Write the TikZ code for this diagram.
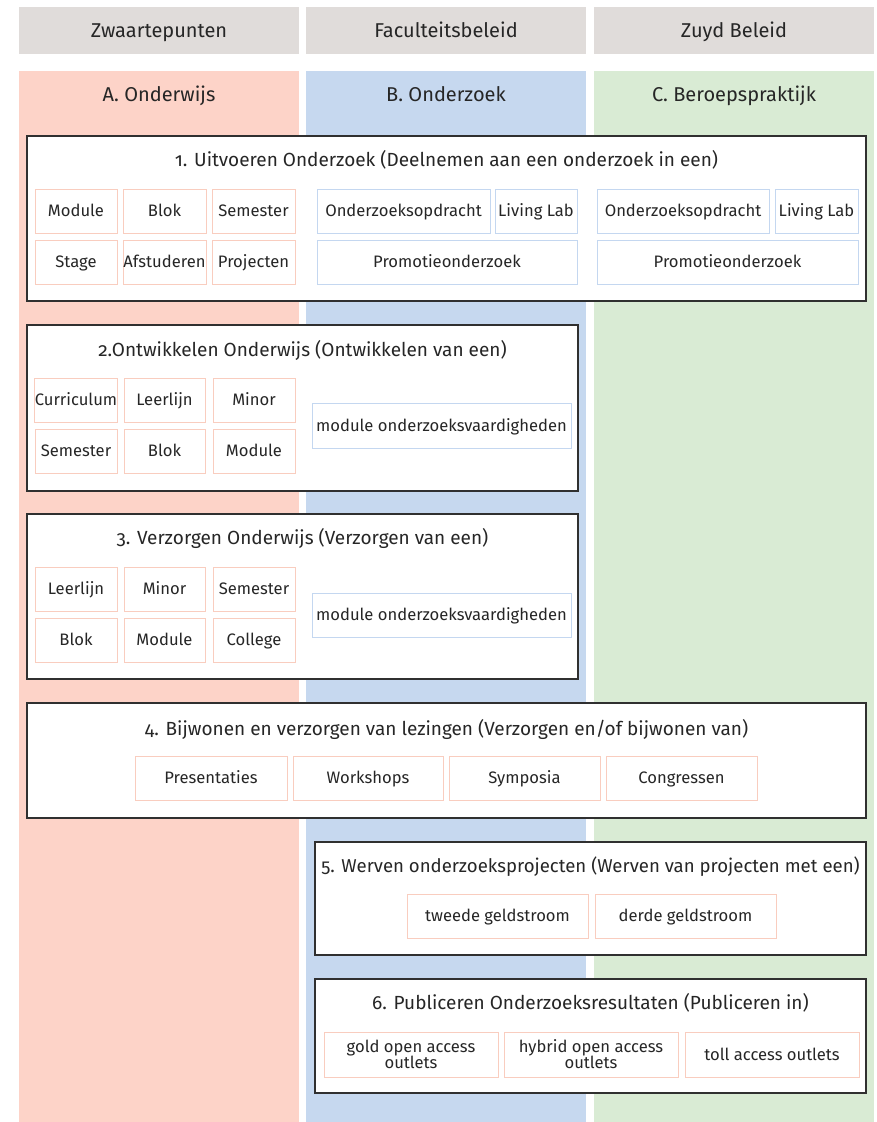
\documentclass[tikz,border=0pt]{standalone}
\usepackage{fontspec}
\setmainfont{Fira Sans}[Numbers=OldStyle]
\definecolor{greyhead}{HTML}{E0DCDA}
\definecolor{colA}{HTML}{FDD3C8}
\definecolor{colB}{HTML}{C6D8EF}
\definecolor{colC}{HTML}{D9EBD4}
\definecolor{lineA}{HTML}{F9CDBF}
\definecolor{lineB}{HTML}{C4D7F0}
\definecolor{txt}{HTML}{262626}
\definecolor{frame}{HTML}{303030}
\tikzset{
  band/.style={draw=none, inner sep=0pt, outer sep=0pt},
  group/.style={draw=frame, line width=1.3pt, fill=white, inner sep=0pt, outer sep=0pt},
  itemA/.style={draw=lineA, line width=0.9pt, fill=white, inner sep=0pt, outer sep=0pt,
    text=txt, font=\fontsize{16.6}{16}\selectfont, align=center,
    text height=11.4pt, text depth=0pt},
  itemB/.style={itemA, draw=lineB},
  twoline/.style={text height=, text depth=},
  heading/.style={text=txt, font=\fontsize{20}{22}\selectfont, text height=13.8pt, text depth=0pt},
  title/.style={text=txt, font=\fontsize{19}{21}\selectfont, text height=13.1pt, text depth=0pt},
}
% box by its corners: style, name, x1, y1, x2, y2, text
\newcommand{\cornerbox}[7]{%
  \node[#1, minimum width={(#5-#3)*1pt}, minimum height={(#6-#4)*1pt}]
    (#2) at ({(#3+#5)/2},{(#4+#6)/2}) {#7};}
\begin{document}
\begin{tikzpicture}[x=1pt,y=-1pt]
\useasboundingbox (0,0) rectangle (877,1122);
\fill[white] (0,0) rectangle (877,1122);

% header row
\cornerbox{band, fill=greyhead}{h1}{19}{7}{299}{54}{}
\cornerbox{band, fill=greyhead}{h2}{306}{7}{586}{54}{}
\cornerbox{band, fill=greyhead}{h3}{594}{7}{874}{54}{}
\node[heading] (h1t) at (159,31) {Zwaartepunten};
\node[heading] (h2t) at (446,31) {Faculteitsbeleid};
\node[heading] (h3t) at (734,31) {Zuyd Beleid};

% coloured columns
\cornerbox{band, fill=colA}{cA}{19}{71}{299}{1122}{}
\cornerbox{band, fill=colB}{cB}{306}{71}{586}{1122}{}
\cornerbox{band, fill=colC}{cC}{594}{71}{874}{1122}{}
\node[heading] (cAt) at (159,95) {A. Onderwijs};
\node[heading] (cBt) at (446,95) {B. Onderzoek};
\node[heading] (cCt) at (734,95) {C. Beroepspraktijk};

% 1. Uitvoeren Onderzoek
\cornerbox{group}{g1}{27}{136}{866}{301}{}
\node[title] (g1t) at (446.5,160) {1. Uitvoeren Onderzoek (Deelnemen aan een onderzoek in een)};
\cornerbox{itemA}{g1a}{35}{189}{117}{233}{Module}
\cornerbox{itemA}{g1b}{123}{189}{206}{233}{Blok}
\cornerbox{itemA}{g1c}{212}{189}{295}{233}{Semester}
\cornerbox{itemA}{g1d}{35}{240}{117}{284}{Stage}
\cornerbox{itemA}{g1e}{123}{240}{206}{284}{Afstuderen}
\cornerbox{itemA}{g1f}{212}{240}{295}{284}{Projecten}
\cornerbox{itemB}{g1g}{317}{189}{490}{233}{Onderzoeksopdracht}
\cornerbox{itemB}{g1h}{495}{189}{577}{233}{Living Lab}
\cornerbox{itemB}{g1i}{317}{240}{577}{284}{Promotieonderzoek}
\cornerbox{itemB}{g1j}{597}{189}{769}{233}{Onderzoeksopdracht}
\cornerbox{itemB}{g1k}{775}{189}{858}{233}{Living Lab}
\cornerbox{itemB}{g1l}{597}{240}{858}{284}{Promotieonderzoek}

% 2. Ontwikkelen Onderwijs
\cornerbox{group}{g2}{27}{325}{578}{491}{}
\node[title] (g2t) at (302.5,350) {2.Ontwikkelen Onderwijs (Ontwikkelen van een)};
\cornerbox{itemA}{g2a}{35}{378}{117}{422}{Curriculum}
\cornerbox{itemA}{g2b}{124}{378}{205}{422}{Leerlijn}
\cornerbox{itemA}{g2c}{213}{378}{295}{422}{Minor}
\cornerbox{itemA}{g2d}{35}{429}{117}{473}{Semester}
\cornerbox{itemA}{g2e}{124}{429}{205}{473}{Blok}
\cornerbox{itemA}{g2f}{213}{429}{295}{473}{Module}
\cornerbox{itemB}{g2g}{312}{403}{571}{448}{module onderzoeksvaardigheden}

% 3. Verzorgen Onderwijs
\cornerbox{group}{g3}{27}{514}{578}{679}{}
\node[title] (g3t) at (302.5,538) {3. Verzorgen Onderwijs (Verzorgen van een)};
\cornerbox{itemA}{g3a}{35}{567}{117}{611}{Leerlijn}
\cornerbox{itemA}{g3b}{124}{567}{205}{611}{Minor}
\cornerbox{itemA}{g3c}{213}{567}{295}{611}{Semester}
\cornerbox{itemA}{g3d}{35}{618}{117}{662}{Blok}
\cornerbox{itemA}{g3e}{124}{618}{205}{662}{Module}
\cornerbox{itemA}{g3f}{213}{618}{295}{662}{College}
\cornerbox{itemB}{g3g}{312}{593}{571}{637}{module onderzoeksvaardigheden}

% 4. Bijwonen en verzorgen van lezingen
\cornerbox{group}{g4}{27}{703}{866}{818}{}
\node[title] (g4t) at (446.5,729) {4. Bijwonen en verzorgen van lezingen (Verzorgen en/of bijwonen van)};
\cornerbox{itemA}{g4a}{135}{756}{287}{800}{Presentaties}
\cornerbox{itemA}{g4b}{293}{756}{443}{800}{Workshops}
\cornerbox{itemA}{g4c}{449}{756}{600}{800}{Symposia}
\cornerbox{itemA}{g4d}{606}{756}{757}{800}{Congressen}

% 5. Werven onderzoeksprojecten
\cornerbox{group}{g5}{315}{842}{866}{955}{}
\node[title, font=\fontsize{18.6}{20}\selectfont] (g5t) at (590.5,866) {5. Werven onderzoeksprojecten (Werven van projecten met een)};
\cornerbox{itemA}{g5a}{407}{894}{588}{938}{tweede geldstroom}
\cornerbox{itemA}{g5b}{595}{894}{776}{938}{derde geldstroom}

% 6. Publiceren Onderzoeksresultaten
\cornerbox{group}{g6}{315}{979}{866}{1093}{}
\node[title] (g6t) at (590.5,1003) {6. Publiceren Onderzoeksresultaten (Publiceren in)};
\cornerbox{itemA, twoline}{g6a}{324}{1032}{498}{1077}{gold open access\\outlets}
\cornerbox{itemA, twoline}{g6b}{504}{1032}{678}{1077}{hybrid open access\\outlets}
\cornerbox{itemA}{g6c}{685}{1032}{859}{1077}{toll access outlets}
\end{tikzpicture}
\end{document}
